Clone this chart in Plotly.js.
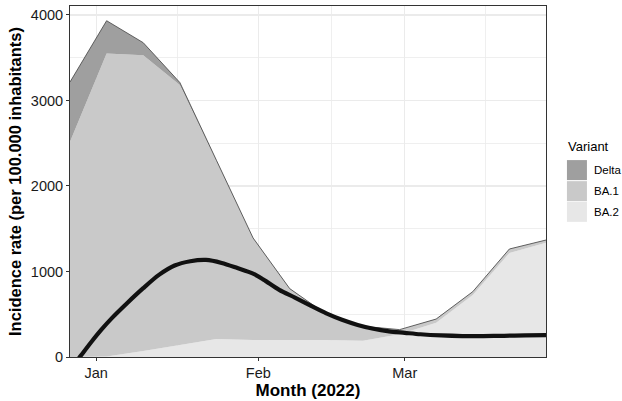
<!DOCTYPE html>
<html>
<head>
<meta charset="utf-8">
<script src="https://cdn.plot.ly/plotly-3.0.1.min.js"></script>
<style>html,body{margin:0;padding:0;background:#fff;}#chart{width:622px;height:401px;}</style>
</head>
<body>
<div id="chart"></div>
<script>
// Weekly data (Mondays)
const weeks = ['2021-12-27','2022-01-03','2022-01-10','2022-01-17','2022-01-24','2022-01-31','2022-02-07','2022-02-14','2022-02-21','2022-02-28','2022-03-07','2022-03-14','2022-03-21','2022-03-28'];
const ba2   = [0, 5, 70, 140, 210, 200, 200, 200, 190, 265, 400, 725, 1216, 1337];
const ba1   = [2518, 3545, 3460, 3040, 2078, 1184, 594, 296, 167, 52, 40, 35, 43, 27];
const delta = [698, 383, 146, 30, 12, 8, 6, 4, 3, 3, 4, 4, 4, 4];

// Smoothed trend line
const smoothDates = ['2021-12-27','2021-12-29','2021-12-31','2022-01-02','2022-01-04','2022-01-07','2022-01-10','2022-01-13','2022-01-16','2022-01-19','2022-01-22','2022-01-25','2022-01-28','2022-01-31','2022-02-02','2022-02-05','2022-02-08','2022-02-11','2022-02-14','2022-02-17','2022-02-20','2022-02-23','2022-02-26','2022-03-01','2022-03-04','2022-03-08','2022-03-12','2022-03-16','2022-03-20','2022-03-24','2022-03-28'];
const smoothVals  = [-150, 10, 170, 320, 455, 635, 805, 960, 1070, 1120, 1135, 1100, 1040, 975, 905, 785, 695, 600, 510, 435, 375, 330, 300, 283, 266, 252, 245, 245, 248, 253, 257];

const variants = ['Delta', 'BA.1', 'BA.2'];
const colors = {'Delta': '#9f9f9f', 'BA.1': '#c9c9c9', 'BA.2': '#e7e7e7'};

const traces = [
  {x: weeks, y: ba2, type: 'scatter', mode: 'lines', stackgroup: 'v', name: 'BA.2',
   fillcolor: colors['BA.2'], line: {width: 0, color: colors['BA.2']}, showlegend: false, hoverinfo: 'skip'},
  {x: weeks, y: ba1, type: 'scatter', mode: 'lines', stackgroup: 'v', name: 'BA.1',
   fillcolor: colors['BA.1'], line: {width: 0, color: colors['BA.1']}, showlegend: false, hoverinfo: 'skip'},
  {x: weeks, y: delta, type: 'scatter', mode: 'lines', stackgroup: 'v', name: 'Delta',
   fillcolor: colors['Delta'], line: {width: 0.8, color: '#404040'}, showlegend: false, hoverinfo: 'skip'},
  {x: smoothDates, y: smoothVals, type: 'scatter', mode: 'lines', name: 'trend',
   line: {width: 4.2, color: '#111111', shape: 'spline', smoothing: 0.8}, showlegend: false, hoverinfo: 'skip'}
];

const gridc = '#ebebeb';
const font = 'Liberation Sans, Arial, Helvetica, sans-serif';

// manual ggplot-like legend
const legX0 = 1.044, legX1 = 1.086;
const swatchY = [[0.561, 0.504], [0.501, 0.444], [0.442, 0.385]];
const shapes = variants.map((v, i) => ({
  type: 'rect', xref: 'paper', yref: 'paper', x0: legX0, x1: legX1,
  y0: swatchY[i][1], y1: swatchY[i][0], fillcolor: colors[v], line: {width: 0}
}));
const annotations = variants.map((v, i) => ({
  xref: 'paper', yref: 'paper', x: 1.097, y: (swatchY[i][0] + swatchY[i][1]) / 2,
  text: v, showarrow: false, xanchor: 'left', yanchor: 'middle',
  font: {family: font, size: 11.5, color: '#000'}
}));
annotations.push({
  xref: 'paper', yref: 'paper', x: 1.042, y: 0.60, text: 'Variant', showarrow: false,
  xanchor: 'left', yanchor: 'middle', font: {family: font, size: 13, color: '#000'}
});

const layout = {
  width: 622, height: 401,
  margin: {l: 70, r: 76, t: 6, b: 44},
  paper_bgcolor: '#ffffff', plot_bgcolor: '#ffffff',
  font: {family: font, color: '#1a1a1a'},
  showlegend: false,
  xaxis: {
    type: 'date', range: ['2021-12-27', '2022-03-28'],
    tickmode: 'array', tickvals: ['2022-01-01', '2022-02-01', '2022-03-01'], ticktext: ['Jan', 'Feb', 'Mar'],
    ticks: 'outside', ticklen: 3, tickcolor: '#333', tickwidth: 1,
    tickfont: {family: font, size: 14.5, color: '#1a1a1a'},
    showgrid: true, gridcolor: gridc, gridwidth: 1.1,
    minor: {tickmode: 'array', tickvals: ['2022-01-16 12:00', '2022-02-15', '2022-03-16 12:00'], showgrid: true, gridcolor: gridc, gridwidth: 0.8, ticks: ''},
    showline: true, mirror: true, linecolor: '#333', linewidth: 1,
    zeroline: false,
    title: {text: '<b>Month (2022)</b>', font: {family: font, size: 17, color: '#000'}, standoff: 2}
  },
  yaxis: {
    range: [0, 4105],
    tickmode: 'array', tickvals: [0, 1000, 2000, 3000, 4000],
    ticks: 'outside', ticklen: 3, tickcolor: '#333', tickwidth: 1,
    tickfont: {family: font, size: 14.5, color: '#1a1a1a'},
    showgrid: true, gridcolor: gridc, gridwidth: 1.1,
    minor: {tickmode: 'array', tickvals: [500, 1500, 2500, 3500], showgrid: true, gridcolor: gridc, gridwidth: 0.8, ticks: ''},
    showline: true, mirror: true, linecolor: '#333', linewidth: 1,
    zeroline: false,
    title: {text: '<b>Incidence rate (per 100.000 inhabitants)</b>', font: {family: font, size: 16.5, color: '#000'}, standoff: 5}
  },
  shapes: shapes,
  annotations: annotations
};

Plotly.newPlot('chart', traces, layout, {displayModeBar: false, staticPlot: true});
</script>
</body>
</html>
